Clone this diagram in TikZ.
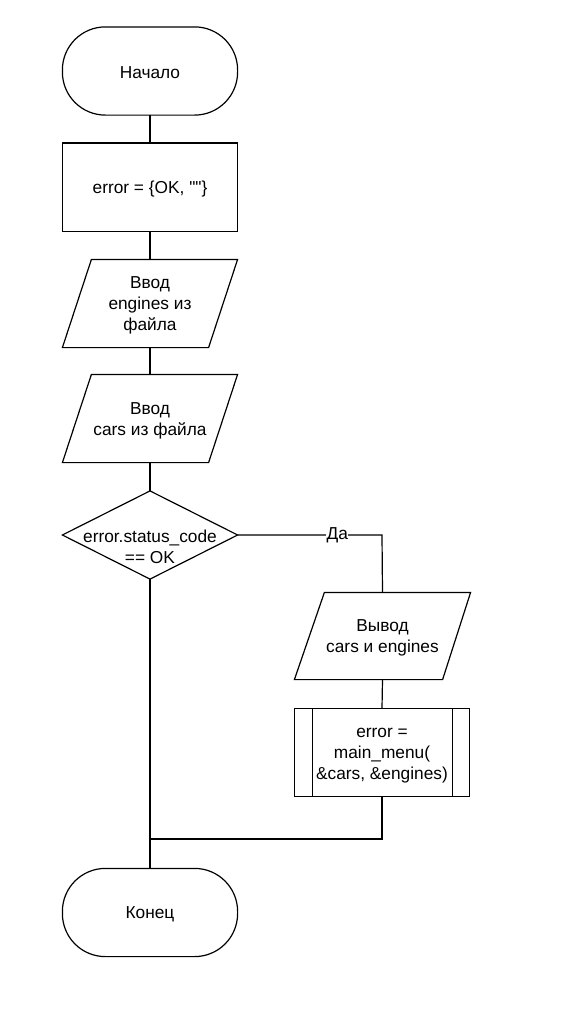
\documentclass[tikz,border=0pt]{standalone}
\usepackage{fontspec}
\setmainfont{Liberation Sans}
\newfontfamily\qfont{Liberation Sans}
\begin{document}
\begin{tikzpicture}[x=1pt,y=-1pt,line width=1.2pt,
  box/.style={inner sep=0pt,minimum width=174pt,minimum height=87pt},
  txt/.style={inner sep=0pt,align=center,font=\fontsize{17.3}{21}\selectfont}]
\useasboundingbox[fill=white] (0,0) rectangle (572,1034);
% shape nodes
\node[box] (start) at (150,71) {};
\node[box] (init) at (150,187) {};
\node[box] (in1) at (150,303.5) {};
\node[box] (in2) at (150,418.5) {};
\node[box] (dec) at (150,535) {};
\node[box,minimum width=175pt,minimum height=86pt] (out) at (382.5,636) {};
\node[box] (sub) at (382,752.5) {};
\node[box] (end) at (150,912.5) {};
% texts
\node[txt] (startt) at ([yshift=-2pt]start.center) {Начало};
\node[txt] (initt) at ([yshift=-2pt]init.center) {error = \{OK, {\qfont""}\}};
\node[txt] (in1t) at ([yshift=-2pt]in1.center) {Ввод\\engines из\\файла};
\node[txt] (in2t) at ([yshift=-2.5pt]in2.center) {Ввод\\cars из файла};
\node[txt] (dect) at ([yshift=-11.5pt]dec.center) {error.status\_code\\== OK};
\node[txt] (outt) at ([yshift=-2pt]out.center) {Вывод\\cars и engines};
\node[txt] (subt) at ([yshift=-3pt]sub.center) {error =\\main\_menu(\\\&cars, \&engines)};
\node[txt] (endt) at ([yshift=-2pt]end.center) {Конец};
% shapes
\draw[rounded corners=43pt] (start.north west) rectangle (start.south east);
\draw (init.north west) rectangle (init.south east);
\draw ([xshift=29pt]in1.north west) -- (in1.north east) -- ([xshift=-29pt]in1.south east) -- (in1.south west) -- cycle;
\draw ([xshift=29pt]in2.north west) -- (in2.north east) -- ([xshift=-29pt]in2.south east) -- (in2.south west) -- cycle;
\draw (dec.north) -- (dec.east) -- (dec.south) -- (dec.west) -- cycle;
\draw ([xshift=30pt]out.north west) -- (out.north east) -- ([xshift=-28pt]out.south east) -- (out.south west) -- cycle;
\draw (sub.north west) rectangle (sub.south east);
\draw ([xshift=18pt]sub.north west) -- ([xshift=18pt]sub.south west);
\draw ([xshift=-17pt]sub.north east) -- ([xshift=-17pt]sub.south east);
\draw[rounded corners=43pt] (end.north west) rectangle (end.south east);
% connectors
\coordinate (corner) at (382,535);
\coordinate (join) at (150,839);
\draw (start.south) -- (init.north);
\draw (init.south) -- (in1.north);
\draw (in1.south) -- (in2.north);
\draw (in2.south) -- (dec.north);
\draw (dec.east) -- node[pos=0.69,fill=white,inner sep=0.5pt,font=\fontsize{17.3}{21}\selectfont] (yes) {Да} (corner) -- (out.north);
\draw (out.south) -- (sub.north);
\draw (dec.south) -- (end.north);
\draw (sub.south) |- (join);
\end{tikzpicture}
\end{document}
